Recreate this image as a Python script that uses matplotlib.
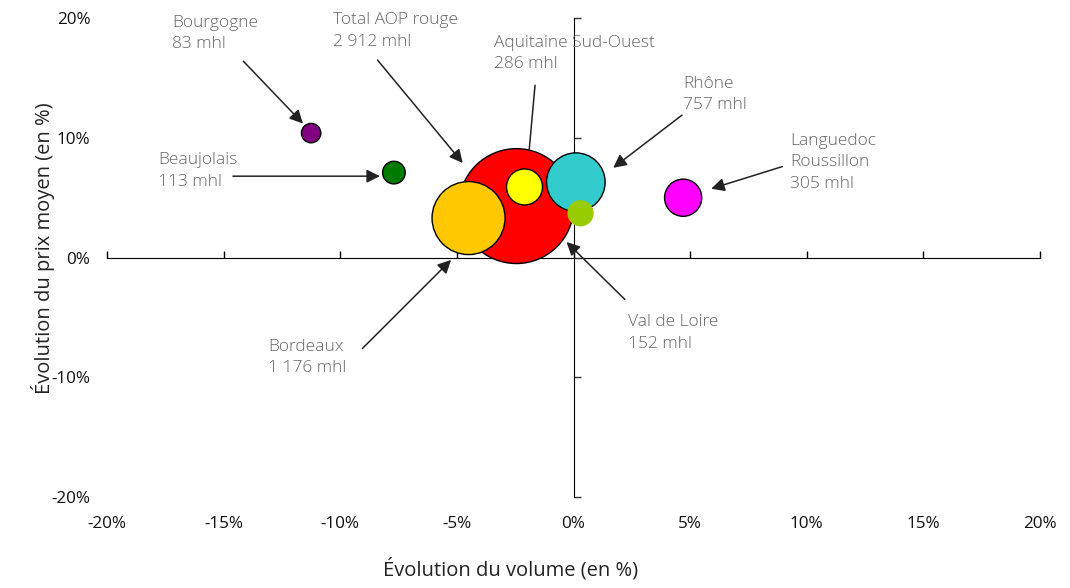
import numpy as np
import matplotlib.pyplot as plt
from matplotlib.ticker import FuncFormatter

plt.rcParams['font.family'] = ['Open Sans', 'DejaVu Sans']

regions = ['Total AOP rouge', 'Bordeaux', 'Rhône', 'Languedoc\nRoussillon',
           'Aquitaine Sud-Ouest', 'Val de Loire', 'Beaujolais', 'Bourgogne']
volume = [2912, 1176, 757, 305, 286, 152, 113, 83]          # mhl
vol_change = [-2.45, -4.5, 0.1, 4.7, -2.1, 0.3, -7.7, -11.25]   # %
price_change = [4.3, 3.3, 6.3, 5.0, 5.9, 3.7, 7.1, 10.4]        # %
colors = ['#ff0000', '#ffc800', '#33cccc', '#ff00ff',
          '#ffff00', '#99cc00', '#007a00', '#800080']
edges = ['black', 'black', 'black', 'black', 'black', 'none', 'black', 'black']

# label text position and arrow tail / head, in data units
label_xy = [(-10.3, 20.5), (-13.1, -6.8), (4.7, 15.2), (9.3, 10.4),
            (-3.4, 18.6), (2.35, -4.75), (-17.8, 8.8), (-17.2, 20.3)]
tail_xy = [(-8.4, 16.5), (-9.05, -7.6), (4.65, 11.9), (8.95, 7.6),
           (-1.65, 14.4), (2.2, -3.5), (-14.6, 6.8), (-14.15, 16.4)]
head_xy = [(-4.75, 7.9), (-5.25, -0.2), (1.7, 7.5), (5.9, 5.75),
           (-1.9, 9.0), (-0.3, 1.3), (-8.3, 6.8), (-11.6, 11.2)]
has_head = [True, True, True, True, False, True, True, True]

fig = plt.figure(figsize=(10.7, 5.88), dpi=100)
ax = fig.add_axes([0.1, 0.155, 0.872, 0.814])

ax.scatter(vol_change, price_change, s=np.array(volume) * 2.35,
           c=colors, edgecolors=edges, linewidths=1.0, zorder=3)

for name, vol, lxy, txy, hxy, head in zip(regions, volume, label_xy,
                                          tail_xy, head_xy, has_head):
    label = f'{name}\n{vol:,} mhl'.replace(',', ' ')
    ax.text(lxy[0], lxy[1], label, ha='left', va='top', fontsize=12.5,
            color='#666666', fontweight='light', linespacing=1.45, zorder=5)
    style = dict(arrowstyle='-|>', color='#222222', lw=1.1,
                 mutation_scale=20, shrinkA=0, shrinkB=0) if head else \
        dict(arrowstyle='-', color='#222222', lw=1.1, shrinkA=0, shrinkB=0)
    ax.annotate('', xy=hxy, xytext=txy, arrowprops=style, zorder=4)

ax.set_xlim(-20, 20)
ax.set_ylim(-20, 20)
ticks = np.arange(-20, 21, 5)
yticks = np.arange(-20, 21, 10)
pct = FuncFormatter(lambda v, p: f'{v:.0f}%')

# tick labels sit on the frame edges, axis lines cross at zero
for s in ax.spines.values():
    s.set_visible(False)
ax.set_xticks(ticks)
ax.set_yticks(yticks)
ax.xaxis.set_major_formatter(pct)
ax.yaxis.set_major_formatter(pct)
ax.tick_params(length=0, labelsize=12.3, colors='#111111')
ax.tick_params(axis='x', pad=14)
ax.tick_params(axis='y', pad=12)

sx = ax.secondary_xaxis(0.5)
sx.set_xticks(ticks)
sx.set_xticklabels([])
sx.tick_params(direction='out', length=5, width=1)
sx.spines['bottom'].set_linewidth(1.1)

sy = ax.secondary_yaxis(0.5)
sy.set_yticks(yticks)
sy.set_yticklabels([])
sy.tick_params(direction='out', length=5, width=1, color='#333333')
sy.spines['left'].set_linewidth(1.0)
sy.spines['left'].set_color('#333333')

ax.set_xlabel('Évolution du volume (en %)', fontsize=14.5, color='#222222')
ax.xaxis.set_label_coords(0.432, -0.128)
ax.set_ylabel('Évolution du prix moyen (en %)', fontsize=14.5, color='#222222')
ax.yaxis.set_label_coords(-0.056, 0.52)

fig.savefig('out.png', dpi=100)
